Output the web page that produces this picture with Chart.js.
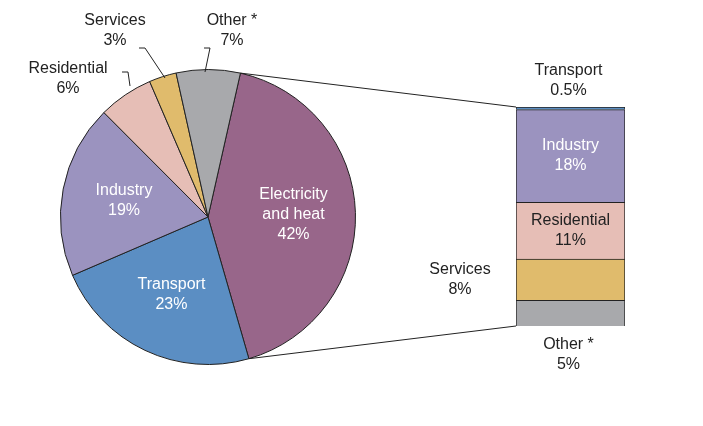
<!DOCTYPE html>
<html><head><meta charset="utf-8">
<script src="https://cdn.jsdelivr.net/npm/chart.js@4"></script>
<style>
body{margin:0;background:#fff;width:703px;height:426px;position:relative;overflow:hidden;font-family:"Liberation Sans",Arial,sans-serif}
#pieBox{position:absolute;left:60px;top:69px;width:296px;height:296px}
#barBox{position:absolute;left:516px;top:107px;width:109px;height:219px}
#over{position:absolute;left:0;top:0;pointer-events:none}
</style></head><body>
<div id="pieBox"><canvas id="pie"></canvas></div>
<div id="barBox"><canvas id="bar"></canvas></div>
<canvas id="over" width="703" height="426"></canvas>
<script>
// Pie: CO2 by sector
const pieLabels = [["Electricity", "and heat"], "Transport", "Industry", "Residential", "Services", "Other *"];
const pieValues = [42, 23, 19, 6, 3, 7];
const pieColors = ["#98668a", "#5b8ec3", "#9b93bf", "#e6beb6", "#e0bb6c", "#a8a9ac"];

// Bar: breakdown of electricity and heat
const barLabels = ["Other *", "Services", "Residential", "Industry", "Transport"];
const barValues = [5, 8, 11, 18, 0.5];
const barColors = ["#a8a9ac", "#e0bb6c", "#e6beb6", "#9b93bf", "#5b8ec3"];

Chart.defaults.font.family = '"Liberation Sans", Arial, sans-serif';
Chart.defaults.animation = false;

const pie = new Chart(document.getElementById("pie"), {
    type: "pie",
    data: { labels: pieLabels, datasets: [{ data: pieValues, backgroundColor: pieColors, borderColor: "#222", borderWidth: 1 }] },
    options: {
        responsive: true, maintainAspectRatio: false, rotation: 12.7,
        plugins: { legend: { display: false }, tooltip: { enabled: false } }
    }
});

const bar = new Chart(document.getElementById("bar"), {
    type: "bar",
    data: {
        labels: [""],
        datasets: barValues.map((v, i) => ({ label: barLabels[i], data: [v], backgroundColor: barColors[i], borderColor: "#222", borderWidth: 1, barPercentage: 1, categoryPercentage: 1 }))
    },
    options: {
        responsive: true, maintainAspectRatio: false,
        scales: { x: { display: false, stacked: true }, y: { display: false, stacked: true, min: 0, max: 42.5 } },
        plugins: { legend: { display: false }, tooltip: { enabled: false } }
    }
});

function drawOverlay() {
    const c = document.getElementById("over").getContext("2d");
    c.clearRect(0, 0, 703, 426);
    c.font = '16px "Liberation Sans", Arial, sans-serif';
    c.textAlign = "center";
    c.textBaseline = "middle";
    const pb = document.getElementById("pieBox").getBoundingClientRect();
    const bb = document.getElementById("barBox").getBoundingClientRect();
    const arcs = pie.getDatasetMeta(0).data;
    const cx = pb.left + arcs[0].x, cy = pb.top + arcs[0].y, r = arcs[0].outerRadius;
    const e = arcs[0];
    const top = [cx + r * Math.cos(e.startAngle), cy + r * Math.sin(e.startAngle)];
    const bot = [cx + r * Math.cos(e.endAngle), cy + r * Math.sin(e.endAngle)];
    c.strokeStyle = "#222"; c.lineWidth = 1;
    c.beginPath();
    c.moveTo(top[0], top[1]); c.lineTo(bb.left, bb.top);
    c.moveTo(bot[0], bot[1]); c.lineTo(bb.left, bb.bottom);
    c.stroke();
    // inside pie labels
    const inside = [0, 1, 2];
    inside.forEach(i => {
        const a = arcs[i], mid = (a.startAngle + a.endAngle) / 2, rr = r * 0.58;
        const x = cx + rr * Math.cos(mid), y = cy + rr * Math.sin(mid);
        const lines = [].concat(pieLabels[i], pieValues[i] + "%");
        c.fillStyle = "#fff";
        lines.forEach((t, k) => c.fillText(t, x, y + (k - (lines.length - 1) / 2) * 20));
    });
    // outside pie labels with leaders
    c.fillStyle = "#222";
    const outs = [[3, 68, 78, [128, 72, 130, 86]], [4, 115, 30, [145, 48, 165, 78]], [5, 232, 30, [210, 48, 205, 72]]];
    outs.forEach(o => {
        const i = o[0];
        c.fillText(pieLabels[i], o[1], o[2] - 9);
        c.fillText(pieValues[i] + "%", o[1], o[2] + 11);
        c.beginPath(); c.moveTo(o[3][0] - 6, o[3][1]); c.lineTo(o[3][0], o[3][1]); c.lineTo(o[3][2], o[3][3]); c.stroke();
    });
    // bar labels
    const bars = bar.data.datasets.map((d, i) => bar.getDatasetMeta(i).data[0]);
    const bx = bb.left + bb.width / 2;
    [3, 2].forEach(i => {
        const y = bb.top + (bars[i].y + bars[i].base) / 2;
        c.fillStyle = i === 3 ? "#fff" : "#222";
        c.fillText(barLabels[i], bx, y - 10);
        c.fillText(barValues[i] + "%", bx, y + 10);
    });
    c.fillStyle = "#222";
    c.fillText(barLabels[4], bx - 2, 71); c.fillText(barValues[4] + "%", bx - 2, 91);
    const sy = bb.top + (bars[1].y + bars[1].base) / 2;
    c.fillText(barLabels[1], 460, sy - 10); c.fillText(barValues[1] + "%", 460, sy + 10);
    c.fillText(barLabels[0], bx - 2, 345); c.fillText(barValues[0] + "%", bx - 2, 365);
}
drawOverlay();
</script>
</body></html>
